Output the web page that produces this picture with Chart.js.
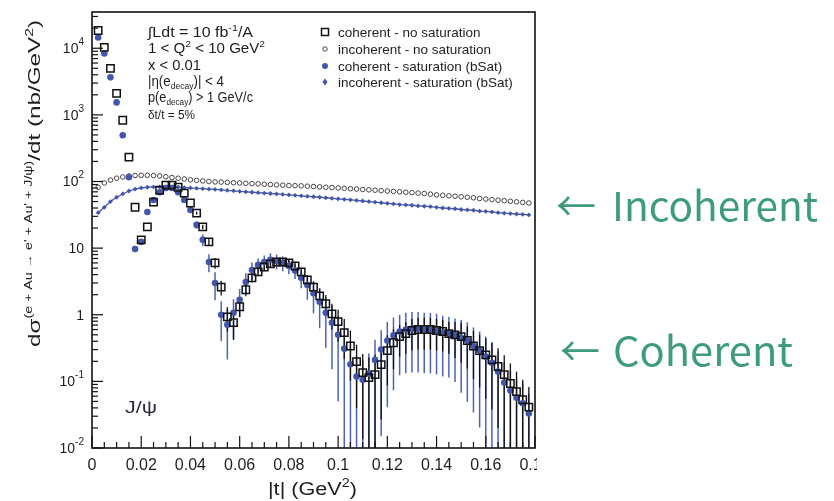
<!DOCTYPE html>
<html>
<head>
<meta charset="utf-8">
<script src="https://cdn.jsdelivr.net/npm/chart.js@4.4.1/dist/chart.umd.min.js"></script>
<style>
  html, body { margin: 0; padding: 0; background: #fff; }
  canvas { display: block; }
</style>
</head>
<body>
<canvas id="chart" width="834" height="501"></canvas>
<script>
/* ---------- Data ---------- */
const tValues = [
  0.0025,0.005,0.0075,0.01,0.0125,0.015,0.0175,0.02,0.0225,0.025,
  0.0275,0.03,0.0325,0.035,0.0375,0.04,0.0425,0.045,0.0475,0.05,
  0.0525,0.055,0.0575,0.06,0.0625,0.065,0.0675,0.07,0.0725,0.075,
  0.0775,0.08,0.0825,0.085,0.0875,0.09,0.0925,0.095,0.0975,0.1,
  0.1025,0.105,0.1075,0.11,0.1125,0.115,0.1175,0.12,0.1225,0.125,
  0.1275,0.13,0.1325,0.135,0.1375,0.14,0.1425,0.145,0.1475,0.15,
  0.1525,0.155,0.1575,0.16,0.1625,0.165,0.1675,0.17,0.1725,0.175,
  0.1775
];

// coherent - no saturation (open squares)
const cohNoSat = [
  18500,10300,4990,2100,830,232,41,13.3,20.8,49,
  74,88,88,82,67,47.5,33.6,20.8,12.4,6.0,
  2.6,0.93,0.76,1.32,2.37,3.58,4.4,5.2,5.8,6.2,
  6.2,6.0,5.4,4.4,3.34,2.6,1.92,1.46,1.03,0.79,
  0.54,0.34,0.198,0.135,0.114,0.126,0.178,0.29,0.38,0.47,
  0.52,0.58,0.60,0.60,0.60,0.58,0.56,0.52,0.50,0.47,
  0.41,0.34,0.29,0.25,0.21,0.167,0.126,0.093,0.070,0.053,
  0.041
];
// relative error bar size
const cohNoSatErr = [
  0.03,0.03,0.03,0.03,0.03,0.03,0.03,0.03,0.03,0.03,
  0.03,0.03,0.03,0.03,0.03,0.03,0.05,0.08,0.12,0.18,
  0.25,0.4,0.45,0.3,0.2,0.15,0.12,0.12,0.12,0.12,
  0.12,0.12,0.12,0.15,0.18,0.22,0.28,0.35,0.42,0.5,
  0.6,0.7,0.8,0.9,1,1,0.85,0.7,0.6,0.5,
  0.5,0.5,0.5,0.5,0.5,0.5,0.5,0.5,0.55,0.6,
  0.62,0.68,0.72,0.78,0.82,0.88,0.95,1,1,1,
  1
];

// coherent - saturation (bSat) (blue dots)
const cohSat = [
  14500,8360,3660,1540,495,116,9.7,12.4,34.8,52.7,
  69,80,80,69,52.7,37.3,22.3,13.3,6.2,3.0,
  1.0,0.71,1.07,1.68,3.1,4.7,5.6,6.2,6.7,6.4,
  6.0,5.4,4.6,3.58,2.8,2.1,1.57,1.07,0.76,0.50,
  0.31,0.18,0.118,0.106,0.131,0.21,0.30,0.41,0.49,0.56,
  0.60,0.62,0.62,0.60,0.60,0.58,0.54,0.52,0.49,0.45,
  0.41,0.34,0.29,0.235,0.19,0.14,0.096,0.073,0.057,0.047,
  0.033
];
const cohSatErr = [
  0.03,0.03,0.03,0.03,0.03,0.03,0.03,0.03,0.03,0.03,
  0.03,0.03,0.03,0.03,0.03,0.06,0.12,0.2,0.3,0.45,
  0.6,0.7,0.6,0.45,0.35,0.3,0.25,0.25,0.25,0.25,
  0.25,0.25,0.25,0.3,0.4,0.5,0.6,0.7,0.8,0.9,
  1,1,1,1,1,1,0.95,0.9,0.85,0.78,
  0.78,0.78,0.78,0.78,0.78,0.78,0.78,0.78,0.8,0.85,
  0.88,0.9,0.93,1,1,1,1,1,1,1,
  1
];

// incoherent - no saturation (open circles)
const incNoSat = [
  82,95,105,112,117,121,123,124,124,123,
  121,118,115,112,109,106,104,102,100,98.5,
  98,97,96,95,94,93,92,91,90,89,
  88,87,86.5,86,85,84,83,82,81,80,
  79,78,77,76,75,74,73,72,71,70,
  69,68,67,66,64.5,63,62,61,60,59,
  58,57,55.5,54.5,53.5,52.5,51.5,50.5,49.5,48.5,
  47.5
];

// incoherent - saturation (bSat)
const incSat = [
  34,41,50,58,65,72,77,80,82,83,
  83,83,82.5,82,81,80,79,78,77,76,
  75,73.5,72.5,71,70,69,68,67,66,65,
  64,63,62,61,60,59,58,57,56,55,
  54,53,52,51,50,49,48,47,46,45,
  44.5,44,43,42.5,42,41,40,39.5,39,38,
  37.5,37,36,35.5,35,34,33.5,33,32.5,32,
  31.5
];

const xMin = 0, xMax = 0.18, xStep = 0.02, xMinorStep = 0.005;
const yMin = 0.01, yMax = 35000;
const yTickVals  = [0.01, 0.1, 1, 10, 100, 1000, 10000];
const yTickBase  = ['10', '10', '1', '10', '10', '10', '10'];
const yTickExp   = ['-2', '-1', '', '', '2', '3', '4'];

const legendLabels = [
  'coherent - no saturation',
  'incoherent - no saturation',
  'coherent - saturation (bSat)',
  'incoherent - saturation (bSat)'
];

/* ---------- Styles ---------- */
const FONT = '"Liberation Sans", Arial, Helvetica, sans-serif';
const SIDE_FONT = '"Noto Sans CJK JP", "Noto Sans", sans-serif';
const BLUE = '#4356ad';
const BLUE_BAR = '#4d63b8';
const INK = '#1e1e1e';
const GREEN = '#3f9b7d';

const pts = arr => tValues.map((t, i) => ({ x: t, y: arr[i] }));

// draw a run of [text, size, dy] pieces left to right, returns end x
function runText(ctx, x, y, parts, color) {
  let cx = x;
  ctx.fillStyle = color || INK;
  for (const [s, size, dy] of parts) {
    ctx.font = size + 'px ' + FONT;
    ctx.fillText(s, cx, y + (dy || 0));
    cx += ctx.measureText(s).width;
  }
  return cx;
}
function runWidth(ctx, parts) {
  let w = 0;
  for (const [s, size] of parts) { ctx.font = size + 'px ' + FONT; w += ctx.measureText(s).width; }
  return w;
}
// same as runText but squeezed/stretched to a given width
function fitText(ctx, x, y, parts, target, color) {
  const w = runWidth(ctx, parts);
  ctx.save();
  ctx.translate(x, y);
  ctx.scale(target / w, 1);
  runText(ctx, 0, 0, parts, color);
  ctx.restore();
}

function drawErrBars(chart, vals, rel, color, lw) {
  const ctx = chart.ctx, xs = chart.scales.x, ys = chart.scales.y, ca = chart.chartArea;
  ctx.save();
  ctx.beginPath(); ctx.rect(ca.left, ca.top, ca.right - ca.left, ca.bottom - ca.top); ctx.clip();
  ctx.strokeStyle = color; ctx.lineWidth = lw;
  vals.forEach((v, i) => {
    const e = v * rel[i];
    const px = xs.getPixelForValue(tValues[i]);
    const top = ys.getPixelForValue(v + e);
    const bot = v - e > 0 ? ys.getPixelForValue(v - e) : ca.bottom;
    if (bot - top < 2) return;
    ctx.beginPath(); ctx.moveTo(px, top); ctx.lineTo(px, bot); ctx.stroke();
  });
  ctx.restore();
}

/* ---------- Plugin: error bars, frame, ticks, texts ---------- */
const decor = {
  id: 'decor',
  beforeDatasetsDraw(chart) {
    drawErrBars(chart, cohSat, cohSatErr, BLUE_BAR, 1.5);
    drawErrBars(chart, cohNoSat, cohNoSatErr, '#111', 1.3);
  },
  afterDraw(chart) {
    const ctx = chart.ctx, xs = chart.scales.x, ys = chart.scales.y, ca = chart.chartArea;
    ctx.save();

    // crop of the last x label, like the source image
    ctx.fillStyle = '#fff';
    ctx.fillRect(ca.right + 2, ca.bottom + 2, 834 - ca.right, 40);

    // frame
    ctx.strokeStyle = '#111'; ctx.lineWidth = 1.6;
    ctx.strokeRect(ca.left, ca.top, ca.right - ca.left, ca.bottom - ca.top);

    // x ticks (inside)
    ctx.lineWidth = 1.2;
    const nX = Math.round((xMax - xMin) / xMinorStep);
    for (let i = 0; i <= nX; i++) {
      const px = xs.getPixelForValue(xMin + i * xMinorStep);
      const len = i % 4 === 0 ? 12 : 6;
      ctx.beginPath(); ctx.moveTo(px, ca.bottom); ctx.lineTo(px, ca.bottom - len); ctx.stroke();
    }
    // y ticks (inside), decades long, 2..9 short
    for (let d = -2; d <= 4; d++) {
      for (let m = 1; m <= 9; m++) {
        const v = m * Math.pow(10, d);
        if (v > yMax) break;
        const py = ys.getPixelForValue(v);
        const len = m === 1 ? 11 : 6;
        ctx.beginPath(); ctx.moveTo(ca.left, py); ctx.lineTo(ca.left + len, py); ctx.stroke();
      }
    }

    // y tick labels with superscript exponents
    ctx.textBaseline = 'middle'; ctx.textAlign = 'left';
    yTickVals.forEach((v, i) => {
      const py = ys.getPixelForValue(v);
      const parts = [[yTickBase[i], 14, 1]];
      if (yTickExp[i]) parts.push([yTickExp[i], 10, -6]);
      const w = runWidth(ctx, parts);
      runText(ctx, ca.left - 8 - w, py, parts);
    });

    // x axis title
    ctx.textBaseline = 'alphabetic';
    fitText(ctx, 268, 495, [['|t| (GeV', 18, 0], ['2', 12, -8], [')', 18, 0]], 89);

    // y axis title (rotated)
    ctx.save();
    ctx.translate(40, 347);
    ctx.rotate(-Math.PI / 2);
    fitText(ctx, 0, 0, [
      ['d\u03c3', 17, 0],
      ['(e + Au \u2192 e\' + Au\' + J/\u03c8)', 10, -8],
      ['/dt (nb/GeV', 17, 0],
      ['2', 11, -7],
      [')', 17, 0]
    ], 327);
    ctx.restore();

    // physics conditions
    fitText(ctx, 148, 37, [['\u222bLdt = 10 fb', 14, 0], ['-1', 9.5, -6], ['/A', 14, 0]], 105);
    fitText(ctx, 148, 53, [['1 < Q', 14, 0], ['2', 9.5, -6], [' < 10 GeV', 14, 0], ['2', 9.5, -6]], 117);
    fitText(ctx, 148, 70, [['x < 0.01', 14, 0]], 53);
    fitText(ctx, 148, 86, [['|\u03b7(e', 14, 0], ['decay', 9, 3], [')| < 4', 14, 0]], 76);
    fitText(ctx, 148, 102, [['p(e', 14, 0], ['decay', 9, 3], [') > 1 GeV/c', 14, 0]], 105);
    fitText(ctx, 148, 119, [['\u03b4t/t = 5%', 12, 0]], 47);

    // J/psi tag
    fitText(ctx, 125, 413, [['J/\u03c8', 17, 0]], 32, '#2a2a48');

    // legend
    const lx = 325, rows = [32, 49, 66, 82];
    ctx.strokeStyle = '#111'; ctx.lineWidth = 1.5;
    ctx.strokeRect(lx - 3.5, rows[0] - 3.5, 7, 7);
    ctx.lineWidth = 0.9; ctx.strokeStyle = '#333';
    ctx.beginPath(); ctx.arc(lx, rows[1], 2.2, 0, Math.PI * 2); ctx.stroke();
    ctx.fillStyle = BLUE;
    ctx.beginPath(); ctx.arc(lx, rows[2], 3, 0, Math.PI * 2); ctx.fill();
    ctx.beginPath(); ctx.moveTo(lx, rows[3] - 3.5); ctx.lineTo(lx + 2.5, rows[3]); ctx.lineTo(lx, rows[3] + 3.5); ctx.lineTo(lx - 2.5, rows[3]); ctx.closePath(); ctx.fill();
    legendLabels.forEach((s, i) => runText(ctx, 338, rows[i] + 5, [[s, 13.5, 0]]));

    // side notes
    ctx.font = '40px ' + SIDE_FONT;
    ctx.fillStyle = GREEN;
    ctx.fillText('\u2190', 556, 221);
    ctx.fillText('\u2190', 560, 366);
    const sideWord = (s, x, y, target) => {
      ctx.save();
      ctx.font = '40px ' + SIDE_FONT;
      const w = ctx.measureText(s).width;
      ctx.translate(x, y); ctx.scale(target / w, 1);
      ctx.fillText(s, 0, 0);
      ctx.restore();
    };
    sideWord('Incoherent', 612, 221, 206);
    sideWord('Coherent', 613, 366, 180);

    ctx.restore();
  }
};

/* ---------- Chart ---------- */
new Chart(document.getElementById('chart').getContext('2d'), {
  type: 'scatter',
  data: {
    datasets: [
      { label: legendLabels[0], data: pts(cohNoSat), order: 1,
        pointStyle: 'rect', pointRadius: 5.2, pointBorderWidth: 1.5,
        pointBorderColor: '#111', pointBackgroundColor: 'rgba(0,0,0,0)' },
      { label: legendLabels[2], data: pts(cohSat), order: 2,
        pointStyle: 'circle', pointRadius: 3.3, pointBorderWidth: 0,
        pointBackgroundColor: BLUE },
      { label: legendLabels[3], data: pts(incSat), order: 3,
        showLine: true, borderColor: BLUE, borderWidth: 1.3,
        pointStyle: 'rectRot', pointRadius: 2.4, pointBorderWidth: 0,
        pointBackgroundColor: BLUE },
      { label: legendLabels[1], data: pts(incNoSat), order: 4,
        pointStyle: 'circle', pointRadius: 2.3, pointBorderWidth: 0.9,
        pointBorderColor: '#333', pointBackgroundColor: '#fff' }
    ]
  },
  options: {
    responsive: false,
    devicePixelRatio: 1,
    animation: false,
    layout: { padding: { left: 0, right: 299, top: 12, bottom: 0 } },
    plugins: { legend: { display: false }, tooltip: { enabled: false } },
    scales: {
      x: {
        type: 'linear', min: xMin, max: xMax,
        grid: { display: false, drawTicks: false }, border: { display: false },
        ticks: {
          stepSize: xStep, autoSkip: false, maxRotation: 0, padding: 8,
          color: INK, font: { family: FONT, size: 16 },
          callback: v => String(+v.toFixed(3))
        },
        afterFit: s => { s.height = 53; }
      },
      y: {
        type: 'logarithmic', min: yMin, max: yMax,
        grid: { display: false, drawTicks: false }, border: { display: false },
        ticks: { display: false },
        afterFit: s => { s.width = 92; }
      }
    }
  },
  plugins: [decor]
});
</script>
</body>
</html>
